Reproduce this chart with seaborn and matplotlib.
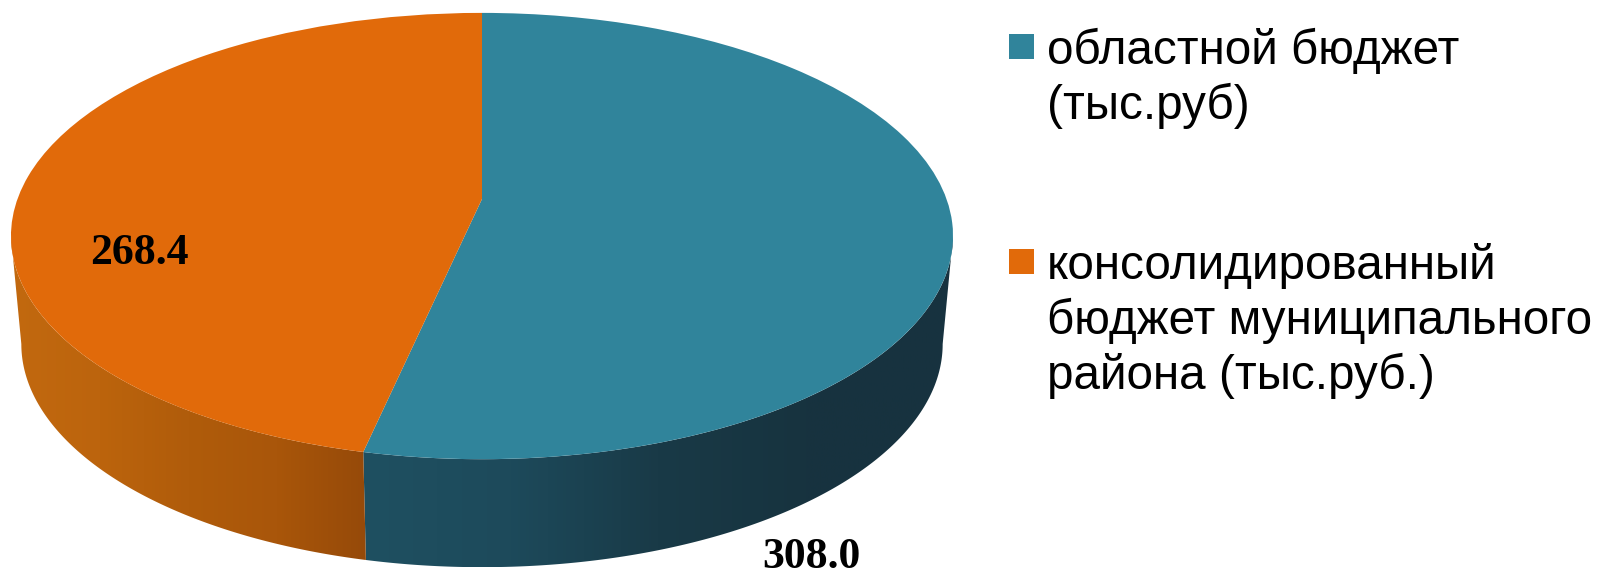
import numpy as np
import matplotlib
matplotlib.use("Agg")
import matplotlib.pyplot as plt
import seaborn as sns
from matplotlib.colors import LinearSegmentedColormap
from matplotlib.patches import PathPatch, Rectangle
from matplotlib.path import Path
from matplotlib.transforms import Transform

# data
categories = ["областной бюджет", "консолидированный бюджет муниципального района"]
values = [308.0, 268.4]
value_labels = ["308.0", "268.4"]
legend_lines = [["областной бюджет", "(тыс.руб)"],
                ["консолидированный", "бюджет муниципального", "района (тыс.руб.)"]]

top_colors = ["#30849B", "#E16A0A"]
blue_side = ["#1F5061", "#1D4A5B", "#193A47", "#17333F", "#17323F"]
orange_side = ["#C2690F", "#BC640D", "#B05C0B", "#A9560A", "#964A09"]

# figure is laid out in reference pixels
W, H = 1600, 569
CX, CY = 482, 199   # apex of the pie
RX, RY = 464.5, 217
TILT = 0.166
DEPTH = 108
SHRINK = 0.978


# the reference has a perspective view, so the unit pie goes through a projective map
class Tilted(Transform):
    input_dims = 2
    output_dims = 2
    is_affine = False

    def transform_non_affine(self, xy):
        xy = np.asarray(xy, dtype=float)
        w = 1 + TILT * xy[:, 1]
        return np.column_stack([CX + RX * xy[:, 0] / w, CY - RY * xy[:, 1] / w])


def rim(a, b):
    # a, b are degrees clockwise from 12 o'clock
    t = np.radians(np.linspace(a, b, 200))
    return Tilted().transform_non_affine(np.column_stack([np.sin(t), np.cos(t)]))


def draw_side(ax, a, b, colors):
    top = rim(a, b)
    low = np.column_stack([CX + SHRINK * (top[:, 0] - CX), top[:, 1] + DEPTH])
    pts = np.vstack([top, low[::-1], top[:1]])
    patch = PathPatch(Path(pts, closed=True), fc="none", ec="none")
    ax.add_patch(patch)
    # horizontal shading of the wall
    cmap = LinearSegmentedColormap.from_list("side", colors)
    im = ax.imshow(np.linspace(0, 1, 256).reshape(1, -1), cmap=cmap, aspect="auto",
                   extent=(pts[:, 0].min(), pts[:, 0].max(), pts[:, 1].max(), pts[:, 1].min()),
                   zorder=1)
    im.set_clip_path(patch)


sns.set_theme(style="white")
plt.rcParams["font.family"] = ["Liberation Sans", "DejaVu Sans"]

fig = plt.figure(figsize=(W / 100, H / 100), dpi=100)
ax = fig.add_axes([0, 0, 1, 1])

wedges, _ = ax.pie(values, colors=sns.color_palette(top_colors), startangle=90,
                   counterclock=False, wedgeprops={"linewidth": 0})
ax.set_aspect("auto")
for w in wedges:
    w.set_transform(Tilted() + ax.transData)
    w.set_zorder(2)

# walls, angles come from the values
split = 360 * values[0] / sum(values)
turn = np.degrees(np.arcsin(TILT))
draw_side(ax, 90 + turn, split, blue_side)
draw_side(ax, split, 270 - turn, orange_side)

ax.set_xlim(0, W)
ax.set_ylim(H, 0)
ax.axis("off")

# value labels
ax.text(811, 568, value_labels[0], family="Liberation Serif", weight="bold", fontsize=31.5,
        color="black", ha="center", va="baseline", zorder=3)
ax.text(139.5, 264, value_labels[1], family="Liberation Serif", weight="bold", fontsize=31.5,
        color="black", ha="center", va="baseline", zorder=3)

# legend
for lines, color, box_y, base_y in zip(legend_lines, top_colors, [34, 249], [64, 279]):
    ax.add_patch(Rectangle((1009, box_y), 25, 25, fc=color, ec="none", zorder=3))
    for i, line in enumerate(lines):
        ax.text(1047, base_y + i * 55, line, fontsize=34.3, color="black", va="baseline", zorder=3)

fig.savefig("out.png", dpi=100)
